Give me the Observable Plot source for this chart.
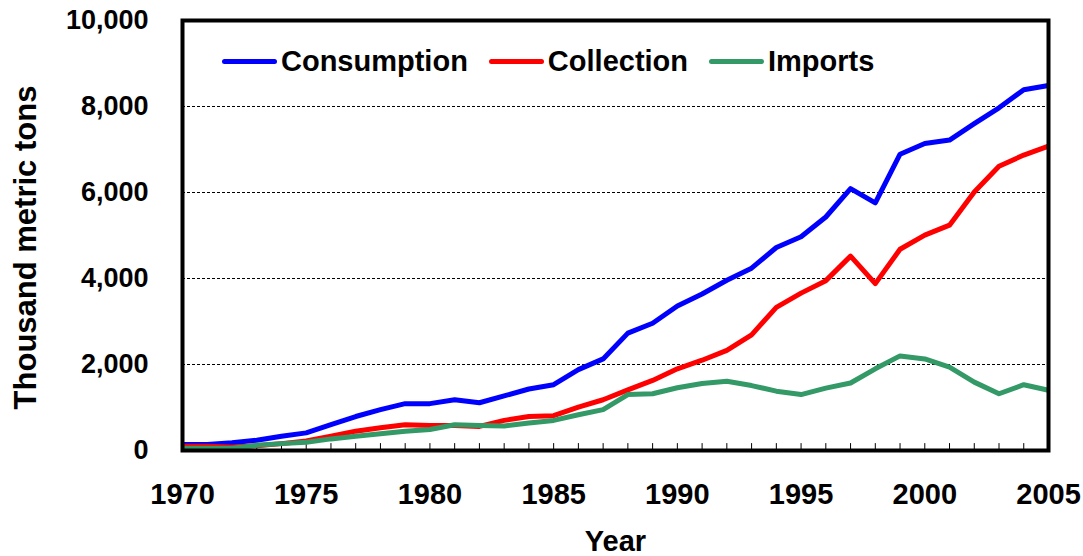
<!DOCTYPE html>
<html>
<head>
<meta charset="utf-8">
<script src="https://cdn.jsdelivr.net/npm/d3@7"></script>
<script src="https://cdn.jsdelivr.net/npm/@observablehq/plot@0.6"></script>
<style>
  body { margin: 0; background: #fff; font-family: "Liberation Sans", Arial, sans-serif; }
  #wrap { position: relative; width: 1083px; height: 556px; }
  #legend { position: absolute; left: 222px; top: 45px; display: flex; align-items: center;
            font: bold 29px "Liberation Sans", Arial, sans-serif; color: #000; }
  .item { display: flex; align-items: center; margin-right: 21px; }
  .sw { width: 55px; height: 5px; border-radius: 3px; margin-right: 4px; }
</style>
</head>
<body>
<div id="wrap"><div id="legend"></div></div>
<script>
const years = d3.range(1970, 2006);
const consumption = [140, 140, 180, 240, 330, 410, 600, 790, 950, 1090, 1090, 1180, 1110, 1270, 1430, 1530, 1880, 2130, 2730, 2960, 3360, 3640, 3960, 4240, 4720, 4970, 5430, 6090, 5760, 6890, 7140, 7220, 7600, 7970, 8390, 8490];
const collection = [100, 100, 80, 110, 160, 220, 330, 450, 530, 600, 580, 580, 560, 700, 790, 810, 1010, 1180, 1410, 1630, 1900, 2100, 2330, 2690, 3330, 3660, 3950, 4520, 3880, 4680, 5010, 5240, 6010, 6610, 6870, 7080];
const imports = [50, 50, 50, 120, 160, 190, 270, 330, 390, 450, 490, 600, 580, 570, 640, 700, 830, 950, 1300, 1320, 1460, 1560, 1610, 1510, 1380, 1300, 1450, 1570, 1900, 2200, 2130, 1940, 1590, 1320, 1530, 1400];
const seriesNames = ["Consumption", "Collection", "Imports"];
const seriesColors = ["#0000FF", "#FF0000", "#339966"];
const yTicks = [0, 2000, 4000, 6000, 8000, 10000];
const gridTicks = [2000, 4000, 6000, 8000];
const xTicks = [1970, 1975, 1980, 1985, 1990, 1995, 2000, 2005];

const seriesValues = [consumption, collection, imports];
const rows = seriesNames.flatMap((name, i) => years.map((yr, j) => ({series: name, year: yr, value: seriesValues[i][j]})));

const tickShape = {draw(context, l) { context.moveTo(0, 0); context.lineTo(0, -l); }};

const chart = Plot.plot({
  width: 1083,
  height: 556,
  marginLeft: 182,
  marginRight: 35,
  marginTop: 20,
  marginBottom: 106,
  style: {fontFamily: "'Liberation Sans', Arial, sans-serif", fontWeight: "bold", color: "#000", background: "#fff"},
  x: {domain: [1970, 2005]},
  y: {domain: [0, 10000]},
  color: {domain: seriesNames, range: seriesColors},
  marks: [
    Plot.gridY(gridTicks, {stroke: "#000", strokeOpacity: 1, strokeWidth: 1, strokeDasharray: "3,2"}),
    Plot.vector(years, {x: d => d, frameAnchor: "bottom", length: 7, anchor: "start", shape: tickShape, stroke: "#000", strokeWidth: 1}),
    Plot.line(rows, {x: "year", y: "value", z: "series", stroke: "series", strokeWidth: 5, strokeLinejoin: "round", strokeLinecap: "butt"}),
    Plot.axisY({ticks: yTicks, tickSize: 0, tickPadding: 34, tickFormat: d3.format(","), fontSize: 27,
      label: "Thousand metric tons", labelAnchor: "center", labelArrow: "none", labelOffset: 169}),
    Plot.axisX({ticks: xTicks, tickSize: 0, tickPadding: 33, tickFormat: d => String(d), fontSize: 29,
      label: "Year", labelAnchor: "center", labelArrow: "none", labelOffset: 100}),
    Plot.frame({stroke: "#000", strokeWidth: 4})
  ]
});
chart.querySelectorAll('g[aria-label="y-axis label"] text').forEach(t => t.setAttribute("font-size", 31));
chart.querySelectorAll('g[aria-label="x-axis label"] text').forEach(t => t.setAttribute("font-size", 29));
const yl = chart.querySelector('g[aria-label="y-axis label"]');
if (yl) yl.setAttribute("transform", ((yl.getAttribute("transform") || "") + " translate(0,12)").trim());
document.getElementById("wrap").prepend(chart);

const legend = document.getElementById("legend");
seriesNames.forEach((name, i) => {
  const item = document.createElement("div");
  item.className = "item";
  const sw = document.createElement("div");
  sw.className = "sw";
  sw.style.background = seriesColors[i];
  const label = document.createElement("span");
  label.textContent = name;
  item.append(sw, label);
  legend.append(item);
});
</script>
</body>
</html>
